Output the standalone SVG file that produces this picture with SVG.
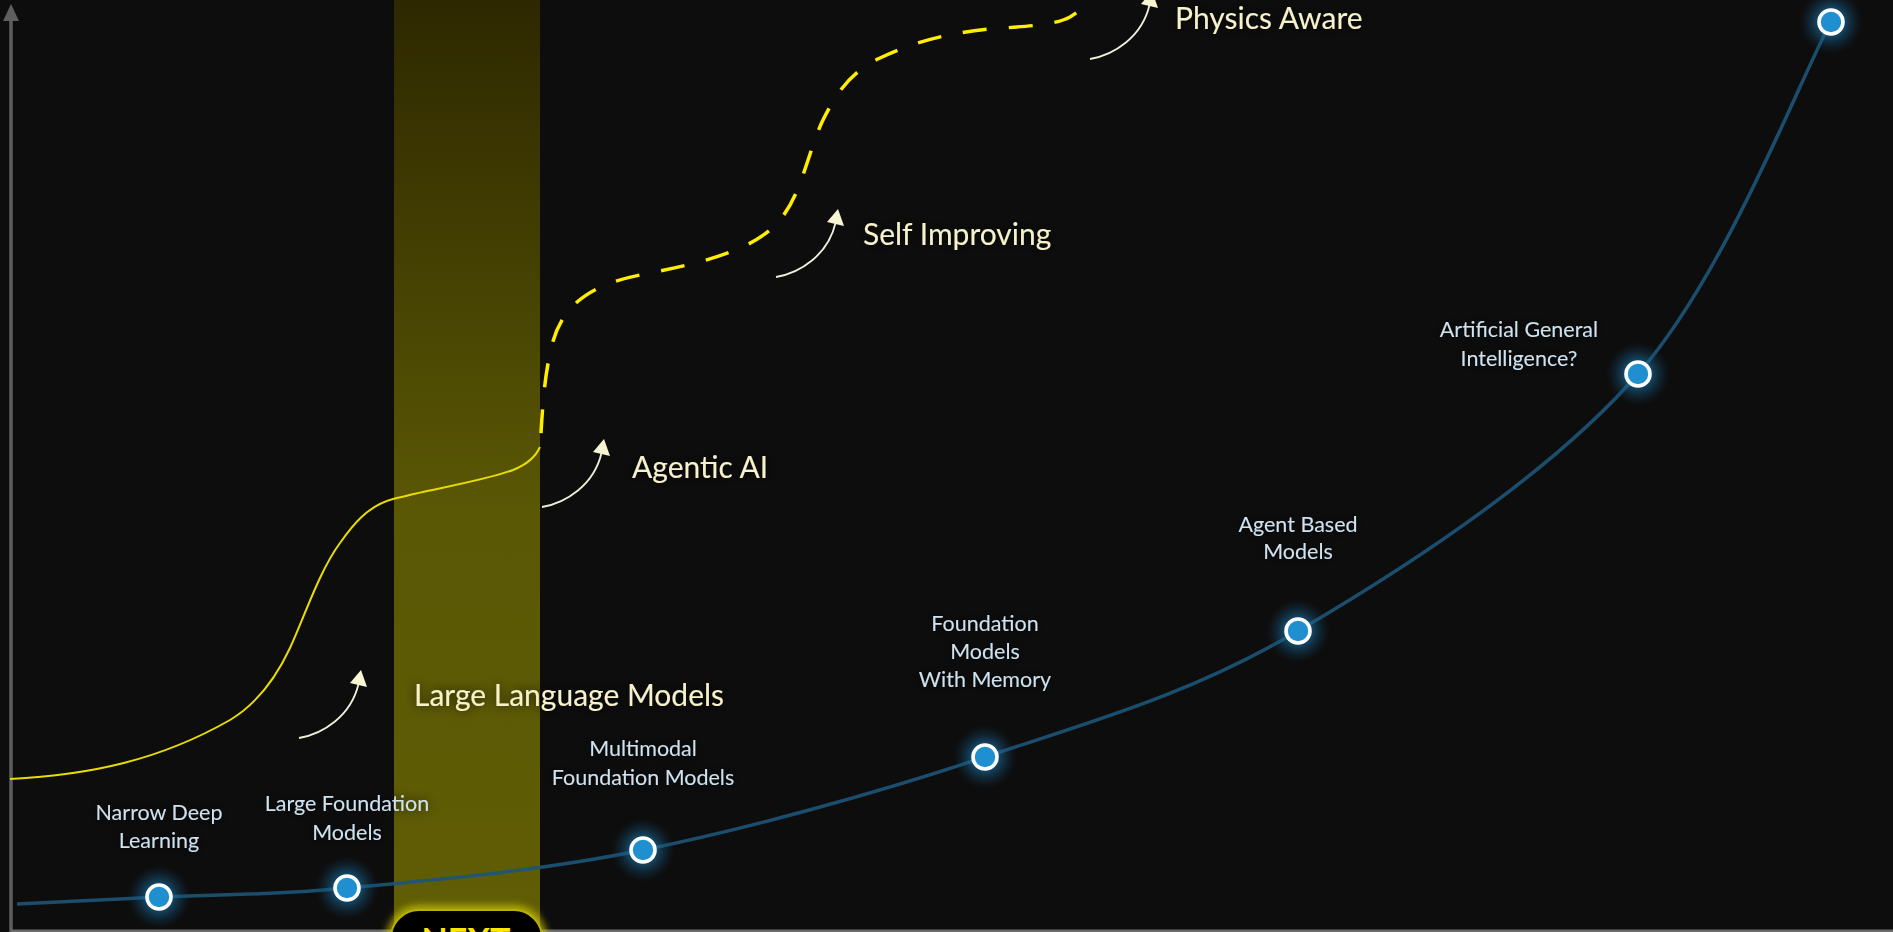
<svg xmlns="http://www.w3.org/2000/svg" width="1893" height="932" viewBox="0 0 1893 932">
  <style>
    .big { font-family: "Lato", "Open Sans", sans-serif; font-size: 30px; fill: #f7f2cc; }
    .lbl { font-family: "Lato", "Open Sans", sans-serif; font-size: 21.5px; fill: #cfe2f0; text-anchor: middle; }
    .ring { fill: #1f8fd0; stroke: #ffffff; stroke-width: 3.6; }
    .halo { fill: url(#glow); }
    .arrow { fill: none; stroke: #eef0dc; stroke-width: 1.8; }
    .head { fill: #f7f5d2; }
  </style>
  <defs>
    <linearGradient id="band" x1="0" y1="0" x2="0" y2="1">
      <stop offset="0" stop-color="#2e2800"/>
      <stop offset="0.55" stop-color="#5a5805"/>
      <stop offset="1" stop-color="#605d05"/>
    </linearGradient>
    <radialGradient id="glow" cx="0.5" cy="0.5" r="0.5">
      <stop offset="0" stop-color="#1f8fd0" stop-opacity="0.9"/>
      <stop offset="0.45" stop-color="#1a6fa3" stop-opacity="0.55"/>
      <stop offset="1" stop-color="#103a55" stop-opacity="0"/>
    </radialGradient>
    <filter id="tshadow" x="-20%" y="-60%" width="140%" height="220%">
      <feGaussianBlur in="SourceAlpha" stdDeviation="6"/>
      <feComponentTransfer><feFuncA type="linear" slope="0.8"/></feComponentTransfer>
      <feMerge><feMergeNode/><feMergeNode in="SourceGraphic"/></feMerge>
    </filter>
    <filter id="yglow" x="-30%" y="-30%" width="160%" height="160%">
      <feGaussianBlur stdDeviation="4"/>
    </filter>
    <path id="curvy" d="M0 0 C24 -4 52 -22 59.5 -54"/>
    <polygon id="tip" points="62,-68 51,-55 68,-51"/>
  </defs>

  <rect x="0" y="0" width="1893" height="932" fill="#0d0d0d"/>

  <!-- highlight band -->
  <rect id="band-now" x="394" y="0" width="146" height="932" fill="url(#band)"/>

  <!-- axes -->
  <g id="axes">
    <line x1="11" y1="932" x2="11" y2="18" stroke="#5e5e5e" stroke-width="3.5"/>
    <polygon points="11,4 3,21 19,21" fill="#5e5e5e"/>
    <line x1="11" y1="931" x2="1893" y2="931" stroke="#6b6b6b" stroke-width="3"/>
  </g>

  <!-- connectors -->
  <g id="connectors">
    <path id="blue-curve" d="M17 904 C40.7 902.8 104 899.7 159 897 C214 894.3 266.3 895.8 347 888 C427.7 880.2 536.7 871.8 643 850 C749.3 828.2 875.8 793.5 985 757 C1094.2 720.5 1189.2 694.8 1298 631 C1406.8 567.2 1549.2 475.5 1638 374 C1726.8 272.5 1798.8 80.7 1831 22" fill="none" stroke="#1d5578" stroke-width="3.5" stroke-opacity="0.9"/>
    <path id="yellow-solid" d="M10 779 C90 775 160 760 230 720 C255 705 275 680 290 648 C305 615 320 570 340 543 C352 526 367 506 393 499 C430 489 480 482 513 470 C528 464 536 456 540 447" fill="none" stroke="#e8dc00" stroke-width="2"/>
    <path id="yellow-dashed" d="M540 449 C542 420 543 380 552 345 C562 305 590 285 640 275 C690 265 740 255 770 230 C800 205 805 160 822 122 C835 95 850 72 880 58 C910 44 940 34 990 29 C1030 26 1055 25 1070 17 C1080 11 1086 5 1090 0" fill="none" stroke="#ffee00" stroke-width="3.5" stroke-dasharray="24 22" stroke-dashoffset="-16"/>

    <g id="arrow-llm" transform="translate(299 738)"><use href="#curvy" class="arrow"/><use href="#tip" class="head"/></g>
    <g id="arrow-agentic" transform="translate(542 507)"><use href="#curvy" class="arrow"/><use href="#tip" class="head"/></g>
    <g id="arrow-self" transform="translate(776 277)"><use href="#curvy" class="arrow"/><use href="#tip" class="head"/></g>
    <g id="arrow-physics" transform="translate(1090 59)"><use href="#curvy" class="arrow"/><use href="#tip" class="head"/></g>
  </g>

  <!-- stage labels -->
  <g id="stage-llm"><text class="big" x="414" y="706" filter="url(#tshadow)">Large Language Models</text></g>
  <g id="stage-agentic"><text class="big" x="632" y="478" filter="url(#tshadow)">Agentic AI</text></g>
  <g id="stage-self"><text class="big" x="863" y="245" filter="url(#tshadow)">Self Improving</text></g>
  <g id="stage-physics"><text class="big" x="1175" y="29" filter="url(#tshadow)">Physics Aware</text></g>

  <!-- nodes -->
  <g id="node-narrow">
    <circle class="halo" cx="159" cy="897" r="32"/>
    <circle class="ring" cx="159" cy="897" r="12"/>
    <text class="lbl" filter="url(#tshadow)"><tspan x="159" y="820">Narrow Deep</tspan><tspan x="159" y="848">Learning</tspan></text>
  </g>
  <g id="node-large-foundation">
    <circle class="halo" cx="347" cy="888" r="32"/>
    <circle class="ring" cx="347" cy="888" r="12"/>
    <text class="lbl" filter="url(#tshadow)"><tspan x="347" y="811">Large Foundation</tspan><tspan x="347" y="840">Models</tspan></text>
  </g>
  <g id="node-multimodal">
    <circle class="halo" cx="643" cy="850" r="32"/>
    <circle class="ring" cx="643" cy="850" r="12"/>
    <text class="lbl" filter="url(#tshadow)"><tspan x="643" y="756">Multimodal</tspan><tspan x="643" y="785">Foundation Models</tspan></text>
  </g>
  <g id="node-memory">
    <circle class="halo" cx="985" cy="757" r="32"/>
    <circle class="ring" cx="985" cy="757" r="12"/>
    <text class="lbl" filter="url(#tshadow)"><tspan x="985" y="631">Foundation</tspan><tspan x="985" y="659">Models</tspan><tspan x="985" y="687">With Memory</tspan></text>
  </g>
  <g id="node-agent">
    <circle class="halo" cx="1298" cy="631" r="32"/>
    <circle class="ring" cx="1298" cy="631" r="12"/>
    <text class="lbl" filter="url(#tshadow)"><tspan x="1298" y="532">Agent Based</tspan><tspan x="1298" y="559">Models</tspan></text>
  </g>
  <g id="node-agi">
    <circle class="halo" cx="1638" cy="374" r="32"/>
    <circle class="ring" cx="1638" cy="374" r="12"/>
    <text class="lbl" filter="url(#tshadow)"><tspan x="1519" y="337">Artificial General</tspan><tspan x="1519" y="366">Intelligence?</tspan></text>
  </g>
  <g id="node-top">
    <circle class="halo" cx="1831" cy="22" r="32"/>
    <circle class="ring" cx="1831" cy="22" r="12"/>
  </g>

  <!-- NEXT marker -->
  <g id="next">
    <rect x="391" y="910" width="151" height="70" rx="28" fill="none" stroke="#e6dc00" stroke-width="6" filter="url(#yglow)"/>
    <rect x="391" y="910" width="151" height="70" rx="28" fill="#000000" stroke="#b8b000" stroke-width="2"/>
    <text x="466" y="953" text-anchor="middle" font-family="Lato, 'Open Sans', sans-serif" font-weight="bold" font-size="34" fill="#ffe800">NEXT</text>
  </g>
</svg>
